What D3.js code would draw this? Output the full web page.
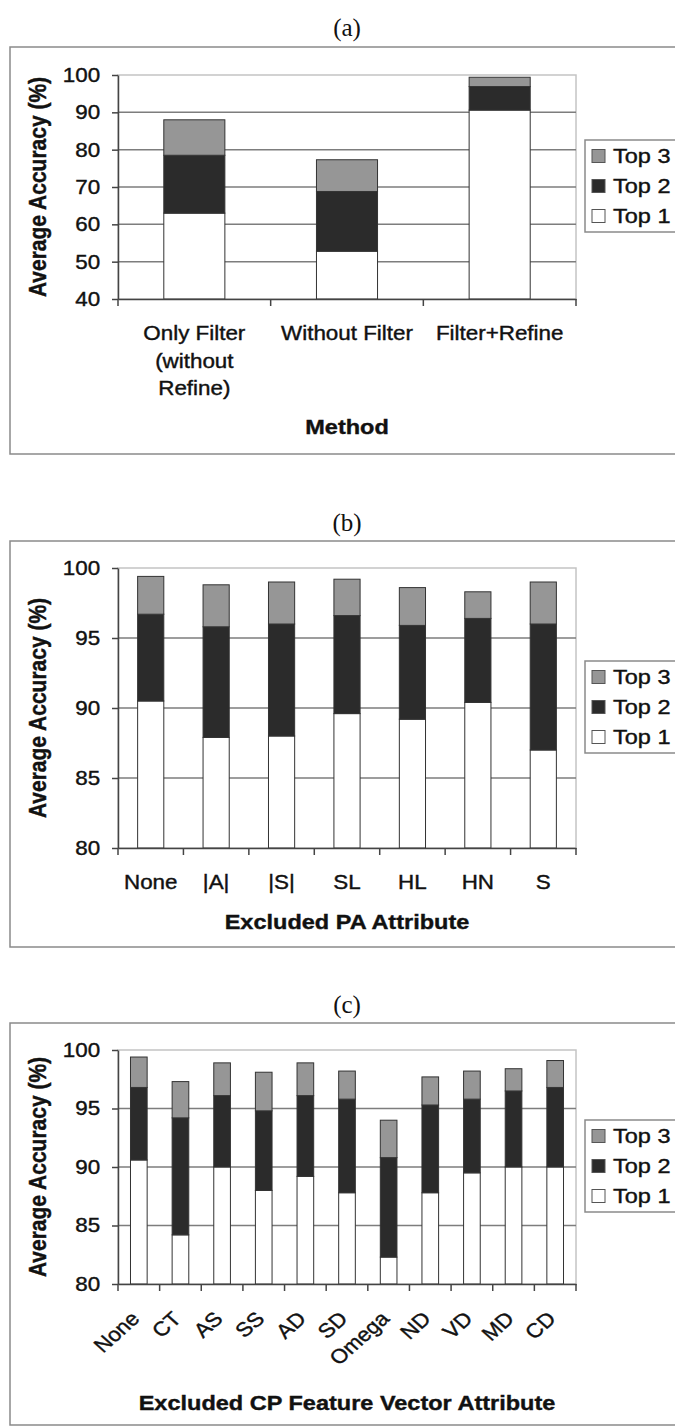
<!DOCTYPE html>
<html>
<head>
<meta charset="utf-8">
<script src="https://cdn.jsdelivr.net/npm/d3@7"></script>
<style>
body { margin: 0; background: #fff; }
</style>
</head>
<body>
<div id="chart"></div>
<script>
// series are cumulative: Top 1, Top 2 (incl. Top 1), Top 3 (incl. Top 2)
const seriesNames = ["Top 1", "Top 2", "Top 3"];

// (a) method comparison
const catsA = ["Only Filter\n(without\nRefine)", "Without Filter", "Filter+Refine"];
const top1A = [63.0, 52.8, 90.6];
const top2A = [78.5, 68.8, 96.9];
const top3A = [88.0, 77.3, 99.4];

// (b) excluded PA attribute
const catsB = ["None", "|A|", "|S|", "SL", "HL", "HN", "S"];
const top1B = [90.5, 87.9, 88.0, 89.6, 89.2, 90.4, 87.0];
const top2B = [96.7, 95.8, 96.0, 96.6, 95.9, 96.4, 96.0];
const top3B = [99.4, 98.8, 99.0, 99.2, 98.6, 98.3, 99.0];

// (c) excluded CP feature vector attribute
const catsC = ["None", "CT", "AS", "SS", "AD", "SD", "Omega", "ND", "VD", "MD", "CD"];
const top1C = [90.6, 84.2, 90.0, 88.0, 89.2, 87.8, 82.3, 87.8, 89.5, 90.0, 90.0];
const top2C = [96.8, 94.2, 96.1, 94.8, 96.1, 95.8, 90.8, 95.3, 95.8, 96.5, 96.8];
const top3C = [99.4, 97.3, 98.9, 98.1, 98.9, 98.2, 94.0, 97.7, 98.2, 98.4, 99.1];

const W = 675, H = 1427;
const PL = 118, PR = 576;
const SX = 1.12; // the scanned figure is a bit wider than tall
const colors = ["#ffffff", "#2b2b2b", "#969696"];
const FONT = '"Liberation Sans", Arial, sans-serif';

const svg = d3.select("#chart").append("svg")
    .attr("width", W)
    .attr("height", H);
svg.append("rect").attr("width", W).attr("height", H).attr("fill", "#fff");

// scanned text looks heavier than a clean render
function ink(sel) {
    return sel.attr("fill", "#111").attr("stroke", "#111").attr("stroke-width", 0.4);
}

function label(g, x, y, str, size, bold, rot) {
    const t = g.append("text")
        .attr("transform", "translate(" + x + "," + y + ") scale(" + SX + ",1)" + (rot ? " rotate(" + rot + ")" : ""))
        .attr("dy", "0.35em")
        .attr("text-anchor", "middle")
        .style("font-family", FONT)
        .style("font-size", size + "px")
        .style("font-weight", bold ? "bold" : "normal")
        .text(str);
    return ink(t);
}

function drawLegend(g, cy) {
    g.append("rect")
        .attr("x", 585).attr("y", cy - 46)
        .attr("width", 120).attr("height", 92)
        .attr("fill", "#fff")
        .attr("stroke", "#8a8a8a")
        .attr("stroke-width", 1.5);
    const rows = [2, 1, 0];
    rows.forEach((k, i) => {
        const ry = cy - 30 + i * 30;
        g.append("rect")
            .attr("x", 592).attr("y", ry - 6.5)
            .attr("width", 13).attr("height", 13)
            .attr("fill", colors[k])
            .attr("stroke", "#555")
            .attr("stroke-width", 1);
        label(g, 613, ry, seriesNames[k], 21, false).attr("text-anchor", "start");
    });
}

function drawPanel(o) {
    const g = svg.append("g");

    g.append("text")
        .attr("x", 347).attr("y", o.capY)
        .attr("dy", "0.35em")
        .attr("text-anchor", "middle")
        .style("font-family", '"Liberation Serif", "Times New Roman", serif')
        .style("font-size", "25px")
        .attr("fill", "#111")
        .text(o.caption);

    g.append("rect")
        .attr("x", 10).attr("y", o.frame[0])
        .attr("width", 700).attr("height", o.frame[1] - o.frame[0])
        .attr("fill", "none")
        .attr("stroke", "#8a8a8a")
        .attr("stroke-width", 1.5);

    const x = d3.scaleBand()
        .domain(o.cats)
        .range([PL, PR])
        .paddingInner(0.6)
        .paddingOuter(0.3);
    const y = d3.scaleLinear()
        .domain(o.yDomain)
        .range([o.plot[1], o.plot[0]]);
    const ticks = d3.range(o.yDomain[0], o.yDomain[1] + o.step / 2, o.step);

    // plot area border + gridlines
    g.append("rect")
        .attr("x", PL).attr("y", o.plot[0])
        .attr("width", PR - PL).attr("height", o.plot[1] - o.plot[0])
        .attr("fill", "none")
        .attr("stroke", "#c4c4c4")
        .attr("stroke-width", 1.5);
    g.selectAll("line.grid")
        .data(ticks.slice(1, -1))
        .join("line")
        .attr("class", "grid")
        .attr("x1", PL).attr("x2", PR)
        .attr("y1", d => y(d)).attr("y2", d => y(d))
        .attr("stroke", "#7d7d7d")
        .attr("stroke-width", 1.5);

    // stacked bars
    const segs = [];
    o.cats.forEach((c, i) => {
        segs.push({ c: c, lo: o.yDomain[0], hi: o.top1[i], k: 0 });
        segs.push({ c: c, lo: o.top1[i], hi: o.top2[i], k: 1 });
        segs.push({ c: c, lo: o.top2[i], hi: o.top3[i], k: 2 });
    });
    g.selectAll("rect.bar")
        .data(segs)
        .join("rect")
        .attr("class", "bar")
        .attr("x", d => x(d.c))
        .attr("y", d => y(d.hi))
        .attr("width", x.bandwidth())
        .attr("height", d => y(d.lo) - y(d.hi))
        .attr("fill", d => colors[d.k])
        .attr("stroke", "#333")
        .attr("stroke-width", 1);

    // y axis
    g.append("g")
        .attr("transform", "translate(" + PL + ",0)")
        .call(d3.axisLeft(y).tickValues(ticks).tickSize(6).tickSizeOuter(0).tickPadding(10).tickFormat(d3.format("d")))
        .call(a => {
            a.attr("font-size", null).attr("font-family", null);
            a.select(".domain").attr("stroke", "#444").attr("stroke-width", 1.5);
            a.selectAll(".tick line").attr("stroke", "#444").attr("stroke-width", 1.5);
            ink(a.selectAll(".tick text")
                .attr("transform", "scale(" + SX + ",1)")
                .style("font-family", FONT)
                .style("font-size", "20px"));
        });

    // x axis
    const xa = g.append("g")
        .attr("transform", "translate(0," + o.plot[1] + ")")
        .call(d3.axisBottom(x).tickSize(0).tickSizeOuter(0).tickPadding(0));
    xa.attr("font-size", null).attr("font-family", null);
    xa.select(".domain").attr("stroke", "#444").attr("stroke-width", 1.5);
    const gap = (x.step() - x.bandwidth()) / 2;
    const edges = o.cats.map(c => x(c) - gap).concat([PR]);
    g.selectAll("line.xtick")
        .data(edges)
        .join("line")
        .attr("class", "xtick")
        .attr("x1", d => d).attr("x2", d => d)
        .attr("y1", o.plot[1]).attr("y2", o.plot[1] + 7)
        .attr("stroke", "#444")
        .attr("stroke-width", 1.5);

    const tt = ink(xa.selectAll(".tick text")
        .style("font-family", FONT)
        .style("font-size", "20px"));
    if (o.rotate) {
        tt.attr("x", 0).attr("y", 0).attr("dy", 0)
            .attr("text-anchor", "end")
            .attr("transform", "translate(2,36) scale(" + SX + ",1) rotate(-45)");
    } else {
        tt.attr("y", 34).attr("dy", 0)
            .attr("transform", "scale(" + SX + ",1)")
            .each(function (d) {
                const t = d3.select(this);
                const lines = d.split("\n");
                t.text(null);
                lines.forEach((ln, i) => {
                    t.append("tspan")
                        .attr("x", 0)
                        .attr("dy", i === 0 ? "0.35em" : "1.38em")
                        .text(ln);
                });
            });
    }

    label(g, (PL + PR) / 2, o.xTitleY, o.xTitle, 21, true);
    label(g, 38, (o.plot[0] + o.plot[1]) / 2, "Average Accuracy (%)", 21, true, -90);

    drawLegend(g, (o.plot[0] + o.plot[1]) / 2 - 1);
}

drawPanel({
    caption: "(a)", capY: 27, frame: [47, 454], plot: [75, 299],
    yDomain: [40, 100], step: 10,
    cats: catsA, top1: top1A, top2: top2A, top3: top3A,
    xTitle: "Method", xTitleY: 427
});
drawPanel({
    caption: "(b)", capY: 522, frame: [541, 947], plot: [568, 848],
    yDomain: [80, 100], step: 5,
    cats: catsB, top1: top1B, top2: top2B, top3: top3B,
    xTitle: "Excluded PA Attribute", xTitleY: 922
});
drawPanel({
    caption: "(c)", capY: 1004, frame: [1023, 1425], plot: [1050, 1284],
    yDomain: [80, 100], step: 5, rotate: true,
    cats: catsC, top1: top1C, top2: top2C, top3: top3C,
    xTitle: "Excluded CP Feature Vector Attribute", xTitleY: 1403
});
</script>
</body>
</html>
